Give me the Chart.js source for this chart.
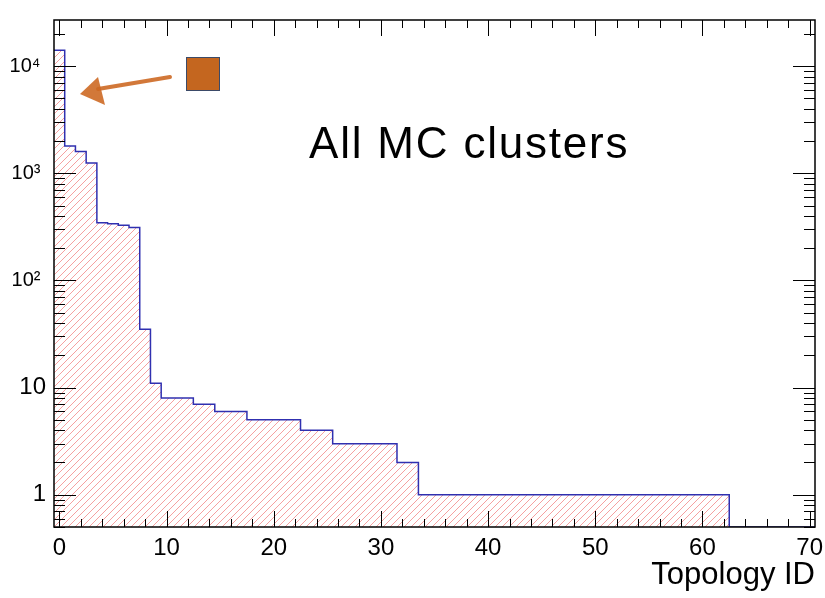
<!DOCTYPE html>
<html>
<head>
<meta charset="utf-8">
<script src="https://cdn.jsdelivr.net/npm/chart.js@4.4.1/dist/chart.umd.min.js"></script>
<style>
  body { margin: 0; background: #fff; }
  #wrap { width: 825px; height: 598px; }
</style>
</head>
<body>
<div id="wrap"><canvas id="chart-topology" width="825" height="598"></canvas></div>
<script>
  // one bin per topology ID, counts of MC clusters
  const topologyIds = [
    0, 1, 2, 3, 4, 5, 6, 7, 8, 9,
    10, 11, 12, 13, 14, 15, 16, 17, 18, 19,
    20, 21, 22, 23, 24, 25, 26, 27, 28, 29,
    30, 31, 32, 33, 34, 35, 36, 37, 38, 39,
    40, 41, 42, 43, 44, 45, 46, 47, 48, 49,
    50, 51, 52, 53, 54, 55, 56, 57, 58, 59,
    60, 61, 62, 63, 64, 65, 66, 67, 68, 69,
    70
  ];
  const clusterCounts = [
    14100, 1800, 1600, 1250, 345, 338, 328, 313, 35, 11,
    8, 8, 8, 7, 7, 6, 6, 6, 5, 5,
    5, 5, 5, 4, 4, 4, 3, 3, 3, 3,
    3, 3, 2, 2, 1, 1, 1, 1, 1, 1,
    1, 1, 1, 1, 1, 1, 1, 1, 1, 1,
    1, 1, 1, 1, 1, 1, 1, 1, 1, 1,
    1, 1, 1, 0, 0, 0, 0, 0, 0, 0,
    0
  ];
  const xTickValues = [0, 10, 20, 30, 40, 50, 60, 70];
  const yTickValues = [1, 10, 100, 1000, 10000];
  const yTickLabels = ['1', '10', '10² ', '10³ ', '10⁴ '];
  const yAxisMin = 0.5;
  const yAxisMax = 27000;

  const FONT = "'Liberation Sans', Arial, Helvetica, sans-serif";

  const canvas = document.getElementById('chart-topology');
  const ctx = canvas.getContext('2d');

  // diagonal "/" hatch for the histogram body
  function makeHatch(step, color) {
    const tile = document.createElement('canvas');
    tile.width = step;
    tile.height = step;
    const g = tile.getContext('2d');
    g.strokeStyle = color;
    g.lineWidth = 1;
    g.beginPath();
    for (let k = -1; k <= 1; k++) {
      g.moveTo(k * step, step);
      g.lineTo(k * step + step, 0);
    }
    g.stroke();
    return ctx.createPattern(tile, 'repeat');
  }

  // left bin edges, stepped 'before' keeps each count flat over its bin;
  // empty bins sit on the axis floor (log scale drops zeros)
  const histPoints = topologyIds.map((id, i) => ({
    x: id - 0.5,
    y: clusterCounts[i] > 0 ? clusterCounts[i] : yAxisMin
  }));
  histPoints.push({
    x: topologyIds[topologyIds.length - 1] + 0.5,
    y: histPoints[histPoints.length - 1].y
  });

  // frame and inward ticks on all four sides
  const rootAxes = {
    id: 'rootAxes',
    afterDatasetsDraw(chart) {
      const { ctx, chartArea: a, scales: { x, y } } = chart;
      ctx.save();
      ctx.strokeStyle = '#000';
      ctx.lineWidth = 1;
      ctx.beginPath();
      for (let t = 0; t < xTickValues.length; t++) {
        const v0 = xTickValues[t];
        const steps = t < xTickValues.length - 1 ? 5 : 1;
        for (let s = 0; s < steps; s++) {
          const v = v0 + s * 2;
          const px = Math.round(x.getPixelForValue(v)) + 0.5;
          const len = s === 0 ? 16 : 8;
          ctx.moveTo(px, a.bottom);
          ctx.lineTo(px, a.bottom - len);
          ctx.moveTo(px, a.top);
          ctx.lineTo(px, a.top + len);
        }
      }
      for (let e = -1; e <= 4; e++) {
        for (let m = 1; m <= 9; m++) {
          const v = m * Math.pow(10, e);
          if (v < y.min || v > y.max) continue;
          const py = Math.round(y.getPixelForValue(v)) + 0.5;
          const len = m === 1 ? 22 : 11;
          ctx.moveTo(a.left, py);
          ctx.lineTo(a.left + len, py);
          ctx.moveTo(a.right, py);
          ctx.lineTo(a.right - len, py);
        }
      }
      ctx.stroke();
      ctx.lineWidth = 1.5;
      ctx.strokeRect(a.left, a.top, a.right - a.left, a.bottom - a.top);
      ctx.restore();
    }
  };

  // text label and hand-drawn marker in the upper part of the pad
  const padNotes = {
    id: 'padNotes',
    afterDraw(chart) {
      const { ctx, chartArea: a } = chart;
      ctx.save();
      ctx.fillStyle = '#000';
      ctx.font = '44px ' + FONT;
      ctx.textBaseline = 'alphabetic';
      ctx.letterSpacing = '1.8px';
      ctx.fillText('All MC clusters', a.left + 255, a.top + 138);
      ctx.letterSpacing = '0px';

      // orange arrow pointing at the first bin
      ctx.strokeStyle = 'rgba(205, 105, 35, 0.9)';
      ctx.fillStyle = 'rgba(205, 105, 35, 0.9)';
      ctx.lineWidth = 4;
      ctx.lineCap = 'round';
      ctx.beginPath();
      ctx.moveTo(a.left + 116, a.top + 57);
      ctx.lineTo(a.left + 44, a.top + 69);
      ctx.stroke();
      ctx.beginPath();
      ctx.moveTo(a.left + 26, a.top + 74);
      ctx.lineTo(a.left + 44, a.top + 57);
      ctx.lineTo(a.left + 51, a.top + 85);
      ctx.closePath();
      ctx.fill();

      // filled square
      ctx.fillStyle = '#c4661f';
      ctx.strokeStyle = '#3b4a68';
      ctx.lineWidth = 1;
      ctx.fillRect(a.left + 132, a.top + 37, 34, 34);
      ctx.strokeRect(a.left + 132.5, a.top + 37.5, 33, 33);
      ctx.restore();
    }
  };

  new Chart(ctx, {
    type: 'line',
    data: {
      datasets: [{
        label: 'All MC clusters',
        data: histPoints,
        stepped: 'before',
        fill: 'start',
        backgroundColor: makeHatch(7, 'rgba(240, 110, 110, 0.65)'),
        borderColor: '#3030b0',
        borderWidth: 1.5,
        pointRadius: 0,
        tension: 0
      }]
    },
    options: {
      responsive: false,
      animation: false,
      layout: { padding: { left: 0, top: 11, right: 10, bottom: 0 } },
      plugins: {
        legend: { display: false },
        tooltip: { enabled: false }
      },
      scales: {
        x: {
          type: 'linear',
          min: -0.5,
          max: 70.5,
          afterBuildTicks: (scale) => { scale.ticks = xTickValues.map(v => ({ value: v })); },
          afterFit: (scale) => {
            scale.height = 71;
            scale.paddingLeft = 0;
            scale.paddingRight = 0;
          },
          grid: { display: false, drawTicks: false },
          border: { display: false },
          ticks: {
            color: '#000',
            padding: 7,
            maxRotation: 0,
            autoSkip: false,
            font: { family: FONT, size: 24 }
          },
          title: {
            display: true,
            text: 'Topology ID',
            align: 'end',
            color: '#000',
            font: { family: FONT, size: 31 },
            padding: { top: 0, bottom: 4 }
          }
        },
        y: {
          type: 'logarithmic',
          min: yAxisMin,
          max: yAxisMax,
          afterBuildTicks: (scale) => { scale.ticks = yTickValues.map(v => ({ value: v })); },
          afterFit: (scale) => { scale.width = 54; },
          grid: { display: false, drawTicks: false },
          border: { display: false },
          ticks: {
            color: '#000',
            padding: 8,
            autoSkip: false,
            font: (c) => ({ family: FONT, size: c.index < 2 ? 24 : 20 }),
            callback: (v, i) => yTickLabels[i]
          }
        }
      }
    },
    plugins: [rootAxes, padNotes]
  });
</script>
</body>
</html>
